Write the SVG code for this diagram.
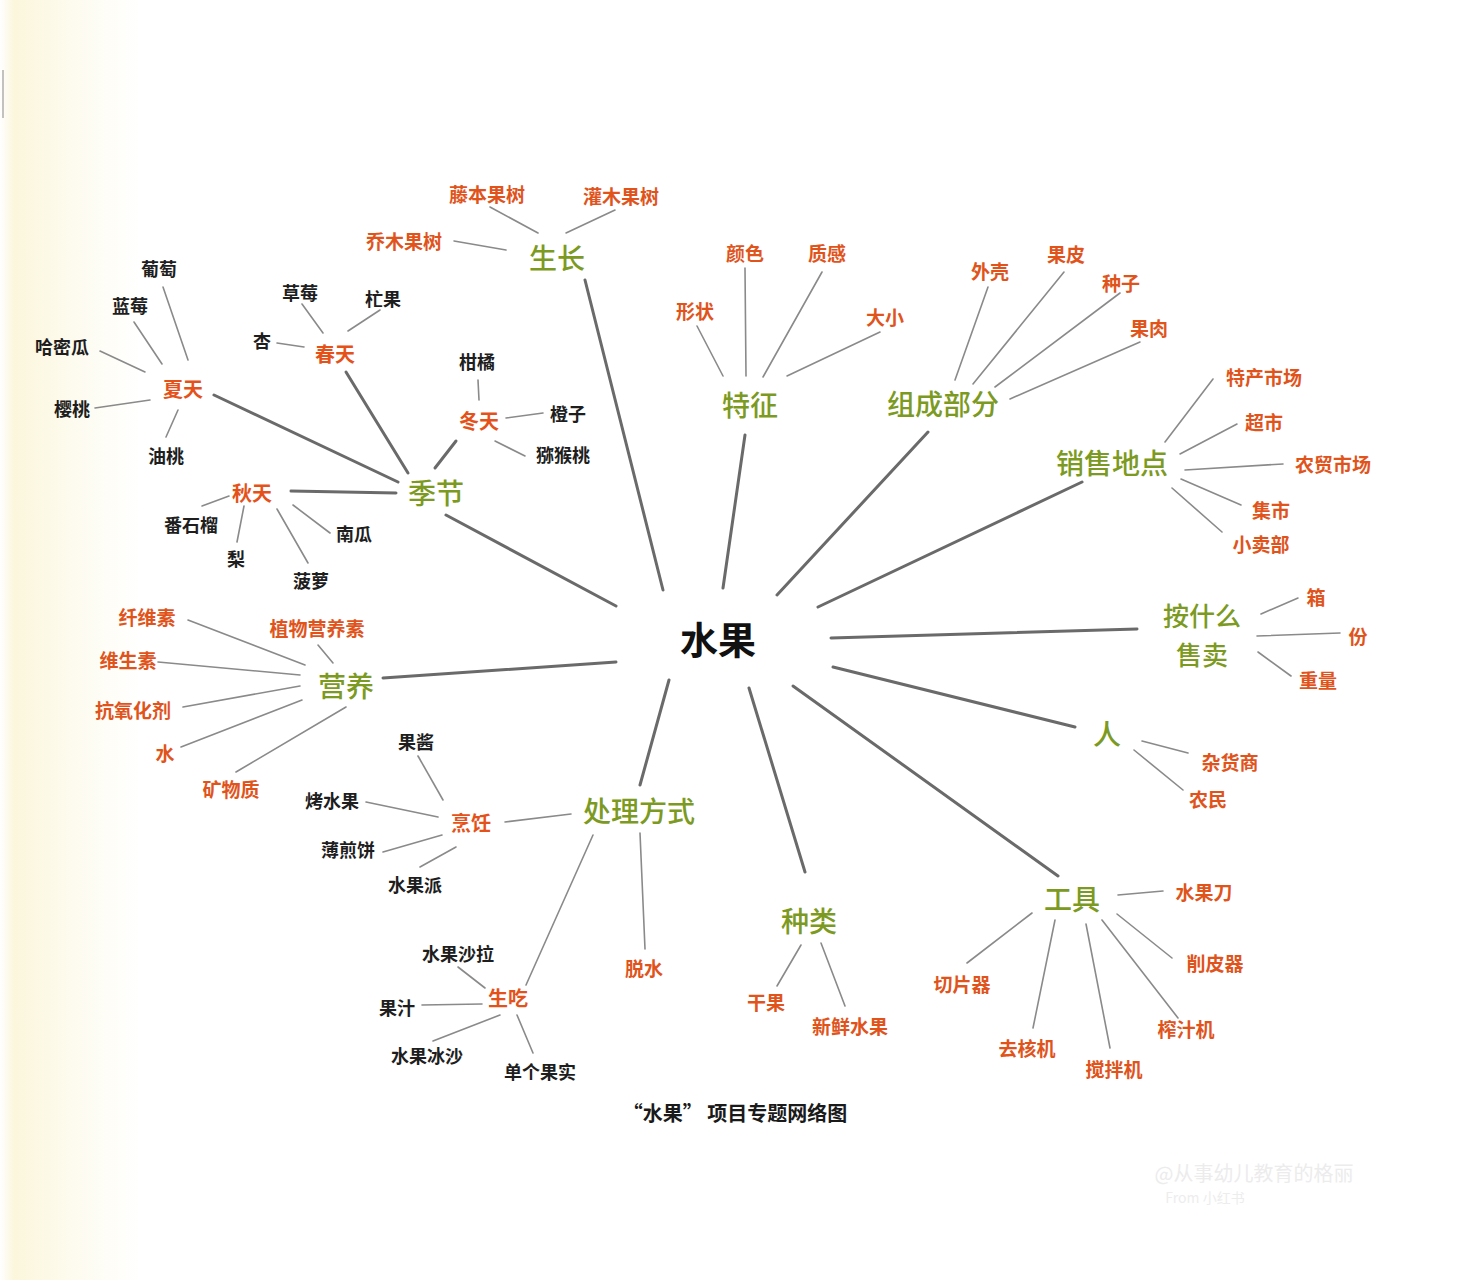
<svg xmlns="http://www.w3.org/2000/svg" width="1477" height="1280" viewBox="0 0 1477 1280">
<defs>
<linearGradient id="bg" x1="0" y1="0" x2="1" y2="0">
<stop offset="0" stop-color="#ffffff"/>
<stop offset="0.1" stop-color="#fbf6dc"/>
<stop offset="0.5" stop-color="#fdfbee"/>
<stop offset="1" stop-color="#ffffff"/>
</linearGradient>
<style>
text{font-family:"Noto Sans CJK SC","Noto Sans",sans-serif;text-anchor:middle;dominant-baseline:central}
.center{font-size:38px;font-weight:700;fill:#111}
.cat{font-size:28px;font-weight:500;fill:#7c9a22}
.cat2{font-size:26px;font-weight:500;fill:#7c9a22}
.sub{font-size:20px;font-weight:700;fill:#e4521a}
.lo{font-size:19px;font-weight:700;fill:#e0541c}
.lk{font-size:18px;font-weight:700;fill:#1e1e1e}
.cap{font-size:20px;font-weight:700;fill:#1a1a1a}
.wm{font-size:20px;fill:#ececec}
.wm2{font-size:14px;fill:#ededed}
.thick line{stroke:#6a6a6a;stroke-width:3;stroke-linecap:round}
.thin line{stroke:#8a8a8a;stroke-width:1.6;stroke-linecap:round}
</style>
</defs>
<rect width="1477" height="1280" fill="#ffffff"/>
<rect x="0" y="0" width="140" height="1280" fill="url(#bg)"/>
<line x1="3" y1="70" x2="3" y2="118" stroke="#9a9a9a" stroke-width="1.2"/>

<g id="connectors">
<g class="thick">
<line x1="663" y1="590" x2="585" y2="280"/>
<line x1="723" y1="588" x2="745" y2="435"/>
<line x1="777" y1="595" x2="928" y2="432"/>
<line x1="818" y1="607" x2="1082" y2="482"/>
<line x1="831" y1="638" x2="1137" y2="629"/>
<line x1="833" y1="667" x2="1075" y2="727"/>
<line x1="793" y1="686" x2="1058" y2="876"/>
<line x1="749" y1="688" x2="805" y2="872"/>
<line x1="669" y1="680" x2="640" y2="785"/>
<line x1="616" y1="662" x2="383" y2="678"/>
<line x1="616" y1="606" x2="446" y2="515"/>
<line x1="398" y1="482" x2="214" y2="395"/>
<line x1="408" y1="473" x2="346" y2="372"/>
<line x1="435" y1="468" x2="456" y2="441"/>
<line x1="396" y1="493" x2="291" y2="491"/>
</g>
<g class="thin">
<line x1="454" y1="241" x2="506" y2="250"/>
<line x1="490" y1="207" x2="538" y2="233"/>
<line x1="615" y1="210" x2="566" y2="233"/>
<line x1="697" y1="326" x2="723" y2="376"/>
<line x1="745" y1="268" x2="746" y2="376"/>
<line x1="822" y1="272" x2="763" y2="377"/>
<line x1="880" y1="332" x2="787" y2="376"/>
<line x1="988" y1="287" x2="955" y2="380"/>
<line x1="1064" y1="272" x2="973" y2="384"/>
<line x1="1120" y1="293" x2="995" y2="387"/>
<line x1="1140" y1="342" x2="1010" y2="399"/>
<line x1="1213" y1="379" x2="1165" y2="442"/>
<line x1="1237" y1="424" x2="1180" y2="454"/>
<line x1="1283" y1="464" x2="1185" y2="470"/>
<line x1="1241" y1="505" x2="1181" y2="479"/>
<line x1="1222" y1="532" x2="1172" y2="488"/>
<line x1="1298" y1="598" x2="1261" y2="614"/>
<line x1="1340" y1="633" x2="1257" y2="636"/>
<line x1="1291" y1="676" x2="1258" y2="652"/>
<line x1="1188" y1="753" x2="1142" y2="741"/>
<line x1="1183" y1="790" x2="1134" y2="750"/>
<line x1="1163" y1="891" x2="1118" y2="895"/>
<line x1="1172" y1="958" x2="1117" y2="914"/>
<line x1="1178" y1="1018" x2="1102" y2="920"/>
<line x1="1110" y1="1048" x2="1086" y2="924"/>
<line x1="1033" y1="1028" x2="1055" y2="920"/>
<line x1="967" y1="963" x2="1032" y2="913"/>
<line x1="777" y1="986" x2="801" y2="945"/>
<line x1="845" y1="1006" x2="821" y2="943"/>
<line x1="505" y1="822" x2="571" y2="814"/>
<line x1="526" y1="985" x2="593" y2="835"/>
<line x1="645" y1="949" x2="640" y2="833"/>
<line x1="418" y1="756" x2="443" y2="800"/>
<line x1="366" y1="802" x2="438" y2="817"/>
<line x1="383" y1="852" x2="442" y2="835"/>
<line x1="420" y1="867" x2="456" y2="847"/>
<line x1="458" y1="967" x2="485" y2="988"/>
<line x1="422" y1="1005" x2="482" y2="1004"/>
<line x1="433" y1="1041" x2="500" y2="1015"/>
<line x1="533" y1="1053" x2="517" y2="1015"/>
<line x1="188" y1="620" x2="305" y2="665"/>
<line x1="318" y1="645" x2="333" y2="663"/>
<line x1="158" y1="662" x2="300" y2="675"/>
<line x1="183" y1="707" x2="300" y2="686"/>
<line x1="181" y1="747" x2="302" y2="700"/>
<line x1="236" y1="772" x2="346" y2="707"/>
<line x1="163" y1="287" x2="188" y2="360"/>
<line x1="134" y1="322" x2="162" y2="364"/>
<line x1="100" y1="351" x2="145" y2="372"/>
<line x1="95" y1="408" x2="150" y2="400"/>
<line x1="166" y1="437" x2="178" y2="410"/>
<line x1="302" y1="304" x2="323" y2="333"/>
<line x1="380" y1="310" x2="348" y2="331"/>
<line x1="277" y1="343" x2="304" y2="347"/>
<line x1="478" y1="380" x2="479" y2="400"/>
<line x1="543" y1="413" x2="506" y2="418"/>
<line x1="525" y1="456" x2="495" y2="441"/>
<line x1="202" y1="506" x2="229" y2="496"/>
<line x1="244" y1="506" x2="237" y2="542"/>
<line x1="330" y1="533" x2="293" y2="505"/>
<line x1="308" y1="563" x2="277" y2="509"/>
</g>
</g>

<g id="n-center"><text class="center" x="718" y="637">水果</text></g>

<g id="n-shengzhang"><text class="cat" x="557" y="257">生长</text></g>
<g id="n-tezheng"><text class="cat" x="750" y="404">特征</text></g>
<g id="n-zucheng"><text class="cat" x="943" y="403">组成部分</text></g>
<g id="n-xiaoshou"><text class="cat" x="1112" y="462">销售地点</text></g>
<g id="n-anshenme"><text class="cat2" x="1202" y="614">按什么</text><text class="cat2" x="1202" y="653">售卖</text></g>
<g id="n-ren"><text class="cat" x="1107" y="733">人</text></g>
<g id="n-gongju"><text class="cat" x="1072" y="898">工具</text></g>
<g id="n-zhonglei"><text class="cat" x="809" y="920">种类</text></g>
<g id="n-chuli"><text class="cat" x="639" y="810">处理方式</text></g>
<g id="n-yingyang"><text class="cat" x="346" y="685">营养</text></g>
<g id="n-jijie"><text class="cat" x="436" y="492">季节</text></g>

<g id="n-xiatian"><text class="sub" x="183" y="388">夏天</text></g>
<g id="n-chuntian"><text class="sub" x="335" y="353">春天</text></g>
<g id="n-dongtian"><text class="sub" x="479" y="420">冬天</text></g>
<g id="n-qiutian"><text class="sub" x="252" y="492">秋天</text></g>
<g id="n-pengren"><text class="sub" x="471" y="822">烹饪</text></g>
<g id="n-shengchi"><text class="sub" x="508" y="997">生吃</text></g>

<g id="n-tengben"><text class="lo" x="487" y="193">藤本果树</text></g>
<g id="n-guanmu"><text class="lo" x="621" y="195">灌木果树</text></g>
<g id="n-qiaomu"><text class="lo" x="404" y="240">乔木果树</text></g>

<g id="n-yanse"><text class="lo" x="745" y="252">颜色</text></g>
<g id="n-zhigan"><text class="lo" x="827" y="252">质感</text></g>
<g id="n-xingzhuang"><text class="lo" x="695" y="310">形状</text></g>
<g id="n-daxiao"><text class="lo" x="885" y="316">大小</text></g>

<g id="n-waike"><text class="lo" x="990" y="270">外壳</text></g>
<g id="n-guopi"><text class="lo" x="1066" y="253">果皮</text></g>
<g id="n-zhongzi"><text class="lo" x="1121" y="282">种子</text></g>
<g id="n-guorou"><text class="lo" x="1149" y="327">果肉</text></g>

<g id="n-techan"><text class="lo" x="1264" y="376">特产市场</text></g>
<g id="n-chaoshi"><text class="lo" x="1264" y="421">超市</text></g>
<g id="n-nongmao"><text class="lo" x="1333" y="463">农贸市场</text></g>
<g id="n-jishi"><text class="lo" x="1271" y="509">集市</text></g>
<g id="n-xiaomaibu"><text class="lo" x="1261" y="543">小卖部</text></g>

<g id="n-xiang"><text class="lo" x="1316" y="596">箱</text></g>
<g id="n-fen"><text class="lo" x="1358" y="635">份</text></g>
<g id="n-zhongliang"><text class="lo" x="1318" y="679">重量</text></g>

<g id="n-zahuo"><text class="lo" x="1230" y="761">杂货商</text></g>
<g id="n-nongmin"><text class="lo" x="1208" y="798">农民</text></g>

<g id="n-dao"><text class="lo" x="1204" y="891">水果刀</text></g>
<g id="n-xiaopi"><text class="lo" x="1215" y="962">削皮器</text></g>
<g id="n-zhazhi"><text class="lo" x="1186" y="1028">榨汁机</text></g>
<g id="n-jiaoban"><text class="lo" x="1114" y="1068">搅拌机</text></g>
<g id="n-quhe"><text class="lo" x="1027" y="1047">去核机</text></g>
<g id="n-qiepian"><text class="lo" x="962" y="983">切片器</text></g>

<g id="n-ganguo"><text class="lo" x="766" y="1001">干果</text></g>
<g id="n-xinxian"><text class="lo" x="850" y="1025">新鲜水果</text></g>

<g id="n-tuoshui"><text class="lo" x="644" y="967">脱水</text></g>

<g id="n-guojiang"><text class="lk" x="416" y="741">果酱</text></g>
<g id="n-kao"><text class="lk" x="332" y="800">烤水果</text></g>
<g id="n-bojian"><text class="lk" x="348" y="849">薄煎饼</text></g>
<g id="n-pai"><text class="lk" x="415" y="884">水果派</text></g>

<g id="n-shala"><text class="lk" x="458" y="953">水果沙拉</text></g>
<g id="n-guozhi"><text class="lk" x="397" y="1007">果汁</text></g>
<g id="n-bingsha"><text class="lk" x="427" y="1055">水果冰沙</text></g>
<g id="n-dange"><text class="lk" x="540" y="1071">单个果实</text></g>

<g id="n-xianwei"><text class="lo" x="147" y="616">纤维素</text></g>
<g id="n-zhiwu"><text class="lo" x="317" y="627">植物营养素</text></g>
<g id="n-weisheng"><text class="lo" x="128" y="659">维生素</text></g>
<g id="n-kangyang"><text class="lo" x="133" y="709">抗氧化剂</text></g>
<g id="n-shui"><text class="lo" x="165" y="752">水</text></g>
<g id="n-kuangwu"><text class="lo" x="231" y="788">矿物质</text></g>

<g id="n-putao"><text class="lk" x="159" y="268">葡萄</text></g>
<g id="n-lanmei"><text class="lk" x="130" y="305">蓝莓</text></g>
<g id="n-hami"><text class="lk" x="62" y="346">哈密瓜</text></g>
<g id="n-yingtao"><text class="lk" x="72" y="408">樱桃</text></g>
<g id="n-youtao"><text class="lk" x="166" y="455">油桃</text></g>

<g id="n-caomei"><text class="lk" x="300" y="292">草莓</text></g>
<g id="n-mangguo"><text class="lk" x="383" y="298">杧果</text></g>
<g id="n-xing"><text class="lk" x="262" y="340">杏</text></g>

<g id="n-ganju"><text class="lk" x="477" y="361">柑橘</text></g>
<g id="n-chengzi"><text class="lk" x="568" y="413">橙子</text></g>
<g id="n-mihoutao"><text class="lk" x="563" y="454">猕猴桃</text></g>

<g id="n-fanshiliu"><text class="lk" x="191" y="524">番石榴</text></g>
<g id="n-li"><text class="lk" x="236" y="558">梨</text></g>
<g id="n-nangua"><text class="lk" x="354" y="533">南瓜</text></g>
<g id="n-boluo"><text class="lk" x="311" y="580">菠萝</text></g>

<g id="caption"><text class="cap" x="735" y="1112">“水果” 项目专题网络图</text></g>
<g id="watermark"><text class="wm" x="1254" y="1172">@从事幼儿教育的格丽</text><text class="wm2" x="1205" y="1197">From 小红书</text></g>
</svg>
